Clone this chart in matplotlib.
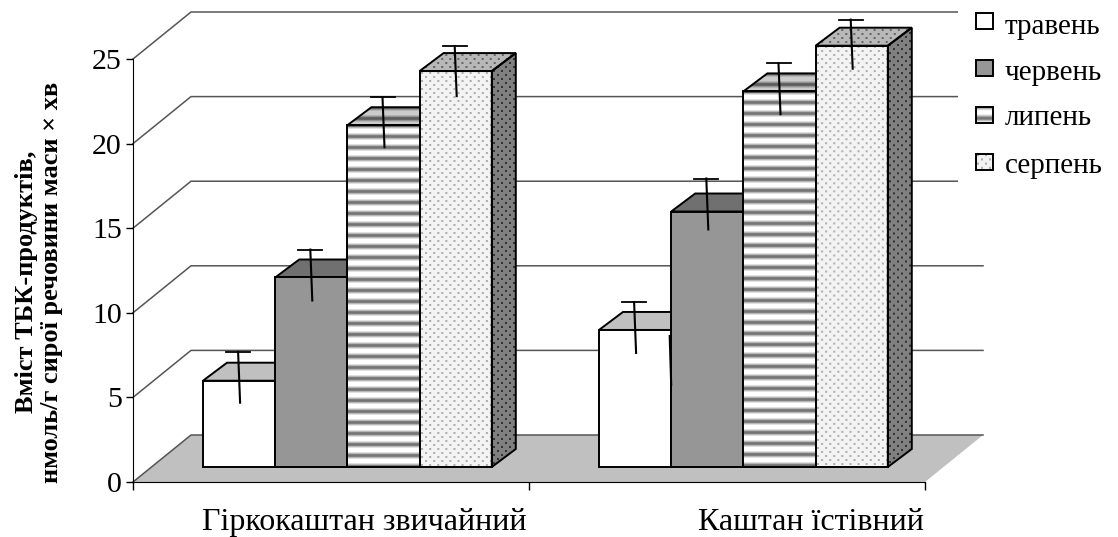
import numpy as np
import matplotlib
matplotlib.use('Agg')
import matplotlib.pyplot as plt
from matplotlib.patches import Polygon, Rectangle

plt.rcParams['font.family'] = ['Liberation Serif', 'DejaVu Serif']

categories = ['Гіркокаштан звичайний', 'Каштан їстівний']
months = ['травень', 'червень', 'липень', 'серпень']
values = [[5.1, 11.2, 20.2, 23.4],
          [8.1, 15.1, 22.2, 24.9]]
err_up = [[1.7, 1.65, 1.65, 1.48],
          [1.65, 1.95, 1.65, 1.54]]
err_down = [[1.3, 1.36, 1.3, 1.48],
            [1.36, 1.06, 1.35, 1.36]]
yticks = [0, 5, 10, 15, 20, 25]

# масштаб: 396 px на категорію, 16.92 px на одиницю
px_x, px_y = 396.0, 16.92
bar_w = 72.2 / px_x
bar_x0 = -126 / px_x        # ліва грань першого стовпчика
base = 15 / px_y            # низ стовпчиків над нульовою лінією
dx, dy = 24 / px_x, 18 / px_y
wall_dx, wall_dy = 58 / px_x, 47 / px_y
x_left, x_right = -196 / px_x, 596 / px_x

fig = plt.figure(figsize=(11.18, 5.37), dpi=100)
ax = fig.add_axes([0, 0, 1, 1])
ax.patch.set_visible(False)


def stripes(k=1.0):
    row = np.array([0.45, 0.5, 0.72, 0.88, 1, 1, 1, 1, 0.88, 0.72, 0.5])
    return row.reshape(-1, 1) * k


def dots(bg=0.95, fg=0.68):
    tex = np.full((8, 8), bg)
    tex[1:3, 1:3] = fg
    tex[5:7, 5:7] = fg
    return tex


def fill_texture(tex, pts, zorder):
    # текстура обрізається за контуром грані
    pts = np.array(pts)
    x0, x1 = pts[:, 0].min(), pts[:, 0].max()
    y0, y1 = pts[:, 1].min(), pts[:, 1].max()
    nx = max(int(round((x1 - x0) * px_x)), 1)
    ny = max(int(round((y1 - y0) * px_y)), 1)
    reps = (ny // tex.shape[0] + 1, nx // tex.shape[1] + 1)
    img = np.tile(tex, reps)[:ny, :nx]
    im = ax.imshow(img, cmap='gray', vmin=0, vmax=1, extent=(x0, x1, y0, y1),
                   aspect='auto', zorder=zorder, interpolation='bilinear')
    poly = Polygon(pts, closed=True, transform=ax.transData, fc='none', ec='none')
    ax.add_patch(poly)
    im.set_clip_path(poly)


def face(pts, color, zorder, tex=None):
    if tex is not None:
        fill_texture(tex, pts, zorder)
        color = 'none'
    ax.add_patch(Polygon(pts, closed=True, fc=color, ec='black', lw=1.4,
                         zorder=zorder + 0.1, joinstyle='miter'))


# підлога і задня стінка
ax.add_patch(Polygon([(x_left, 0), (x_left + wall_dx, wall_dy),
                      (x_right + wall_dx, wall_dy), (x_right, 0)],
                     closed=True, fc='#c0c0c0', ec='none', zorder=1))
for t in yticks[1:]:
    ax.plot([x_left, x_left + wall_dx, x_right + wall_dx],
            [t, t + wall_dy, t + wall_dy], color='#555555', lw=1.1, zorder=1)
ax.plot([x_left, x_left + wall_dx, x_right + wall_dx],
        [0, wall_dy, wall_dy], color='#555555', lw=1.1, zorder=1)

front_colors = ['white', '#969696', None, None]
top_colors = ['#c0c0c0', '#707070', None, None]

for i, group in enumerate(values):
    for j, v in enumerate(group):
        x0 = i + bar_x0 + j * bar_w
        x1 = x0 + bar_w
        h = base + v
        z = 3 + j * 2
        top = [(x0, h), (x1, h), (x1 + dx, h + dy), (x0 + dx, h + dy)]
        front = [(x0, base), (x1, base), (x1, h), (x0, h)]
        if j == 2:
            face(top, None, z, stripes(0.8))
            face(front, None, z, stripes())
        elif j == 3:
            face(top, None, z, dots(0.72, 0.4))
            face(front, None, z, dots())
            side = [(x1, base), (x1 + dx, base + dy), (x1 + dx, h + dy), (x1, h)]
            face(side, None, z, dots(0.5, 0.2))
        else:
            face(top, top_colors[j], z)
            face(front, front_colors[j], z)

# планки похибок зі зміщенням на глибину
for i, group in enumerate(values):
    for j, v in enumerate(group):
        xc = i + bar_x0 + (j + 0.5) * bar_w
        xt = xc - 1 / px_x
        xb = xc + 1 / px_x
        up, down = base + v + err_up[i][j], base + v - err_down[i][j]
        ax.plot([xt, xb], [up, down], color='black', lw=1.5, zorder=20)
        ax.plot([xt - 12 / px_x, xt + 12 / px_x], [up, up], color='black',
                lw=1.3, zorder=20)

# залишок планки біля другого стовпчика другої групи
stray_x = 1 + bar_x0 + bar_w
ax.plot([stray_x - 1.5 / px_x, stray_x], [(482 - 336) / px_y, (482 - 385) / px_y],
        color='black', lw=1.5, zorder=20)

# осі
for s in ('top', 'right'):
    ax.spines[s].set_visible(False)
ax.spines['left'].set_position(('data', x_left))
ax.spines['left'].set_bounds(0, 25)
ax.spines['bottom'].set_position(('data', 0))
ax.spines['bottom'].set_bounds(x_left, x_right)
ax.set_yticks(yticks)
ax.set_yticklabels([str(t) for t in yticks], fontsize=21.5)
ax.tick_params(axis='y', length=5, width=1, pad=3)
ax.set_xticks([x_left, x_left + 1, x_right])
ax.set_xticklabels([])
ax.tick_params(axis='x', length=6, width=1)
ax.set_xticks([x_left + 1 - 2 / px_x, x_right - 1 / px_x], minor=True)
ax.set_xticklabels(categories, minor=True, fontsize=23, ha='right')
ax.tick_params(axis='x', which='minor', length=0, pad=19)

ax.text(-290 / px_x, (482 - 282) / px_y, 'Вміст ТБК-продуктів,\nнмоль/г сирої речовини маси × хв',
        rotation=90, ha='center', va='center', fontsize=19, fontweight='bold',
        linespacing=1.15)

# легенда
ax.add_patch(Rectangle((958 - 329) / px_x * np.array([1, 0]) + np.array([0, 290 / px_y]),
                       170 / px_x, 200 / px_y, fc='white', ec='none', zorder=2))
legend_y = [21, 68, 115, 162]
text_y = [27, 73, 118, 166]
swatch = [('white', None), ('#969696', None), (None, stripes()), (None, dots())]
for name, ly, ty, (col, tex) in zip(months, legend_y, text_y, swatch):
    yc = (482 - ly) / px_y
    x0, x1 = (976 - 329) / px_x, (993 - 329) / px_x
    pts = [(x0, yc - 8 / px_y), (x1, yc - 8 / px_y), (x1, yc + 8 / px_y), (x0, yc + 8 / px_y)]
    face(pts, col, 5, tex)
    ax.text((1005 - 329) / px_x, (482 - ty) / px_y, name, fontsize=21, va='center',
            ha='left', zorder=6)

ax.set_xlim(-329 / px_x, (1118 - 329) / px_x)
ax.set_ylim(-(537 - 482) / px_y, 482 / px_y)
fig.savefig('out.png', dpi=100)
